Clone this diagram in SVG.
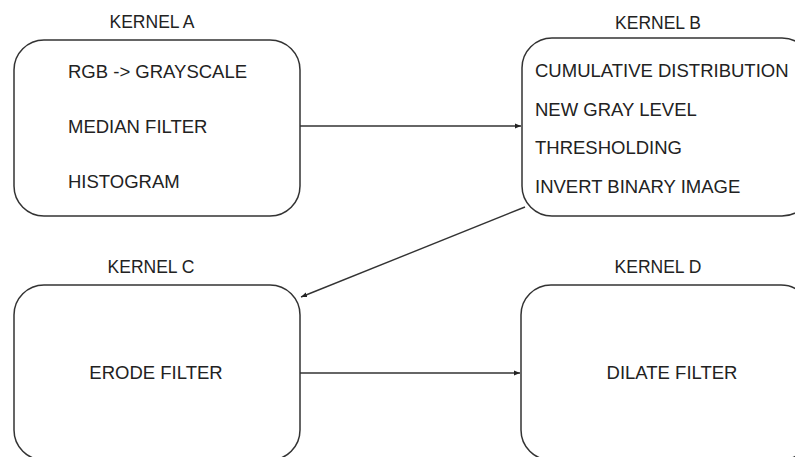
<svg xmlns="http://www.w3.org/2000/svg" width="795" height="457" viewBox="0 0 795 457">
  <style>
    .box { fill: #ffffff; stroke: #333333; stroke-width: 1.5; }
    .title { font-family: "Liberation Sans", Arial, sans-serif; font-size: 17.5px; fill: #222222; text-anchor: middle; }
    .item { font-family: "Liberation Sans", Arial, sans-serif; font-size: 18.5px; fill: #222222; }
    .mid { text-anchor: middle; }
    .edge { fill: none; stroke: #333333; stroke-width: 1.4; marker-end: url(#arrow); }
  </style>
  <defs>
    <marker id="arrow" viewBox="0 0 10 10" refX="10" refY="5" markerWidth="6" markerHeight="6" markerUnits="userSpaceOnUse" orient="auto">
      <path d="M0,1 L10,5 L0,9 Z" fill="#222222"/>
    </marker>
  </defs>
  <rect width="795" height="457" fill="#ffffff"/>

  <g id="kernel-a">
    <text class="title" x="152" y="28">KERNEL A</text>
    <rect class="box" x="14" y="40" width="286" height="176" rx="30" ry="30"/>
    <text class="item" x="68" y="78">RGB -&gt; GRAYSCALE</text>
    <text class="item" x="68" y="133">MEDIAN FILTER</text>
    <text class="item" x="68" y="188">HISTOGRAM</text>
  </g>

  <g id="kernel-b">
    <text class="title" x="658" y="29">KERNEL B</text>
    <rect class="box" x="522" y="38" width="290" height="178" rx="30" ry="30"/>
    <text class="item" x="535" y="77">CUMULATIVE DISTRIBUTION</text>
    <text class="item" x="535" y="116">NEW GRAY LEVEL</text>
    <text class="item" x="535" y="154">THRESHOLDING</text>
    <text class="item" x="535" y="193">INVERT BINARY IMAGE</text>
  </g>

  <g id="kernel-c">
    <text class="title" x="151" y="273">KERNEL C</text>
    <rect class="box" x="14" y="285" width="286" height="175" rx="30" ry="30"/>
    <text class="item mid" x="156" y="379">ERODE FILTER</text>
  </g>

  <g id="kernel-d">
    <text class="title" x="658" y="273">KERNEL D</text>
    <rect class="box" x="521" y="285" width="290" height="175" rx="30" ry="30"/>
    <text class="item mid" x="672" y="379">DILATE FILTER</text>
  </g>

  <g id="connectors">
    <line class="edge" x1="300" y1="126" x2="521" y2="126"/>
    <line class="edge" x1="525" y1="207" x2="301" y2="297"/>
    <line class="edge" x1="300" y1="373" x2="520" y2="373"/>
  </g>
</svg>
